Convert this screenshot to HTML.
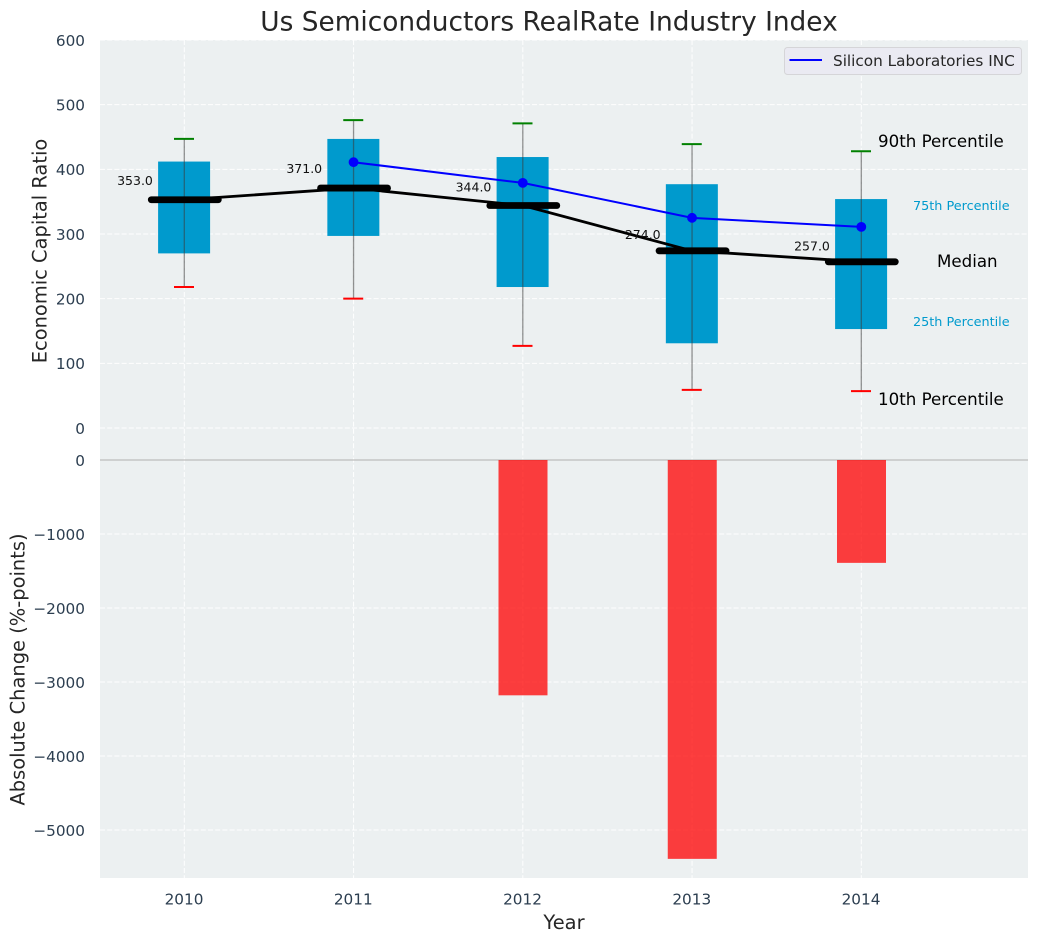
<!DOCTYPE html>
<html>
<head>
<meta charset="utf-8">
<title>Us Semiconductors RealRate Industry Index</title>
<style>
html,body{margin:0;padding:0;background:#fff;width:1039px;height:942px;overflow:hidden}
svg{display:block;font-family:"DejaVu Sans","Liberation Sans",sans-serif}
</style>
</head>
<body>
<svg id="chart" width="1039" height="942" viewBox="0 0 1039 942" xmlns="http://www.w3.org/2000/svg"></svg>
<script>
const years = [2010, 2011, 2012, 2013, 2014];
const p90 = [447, 476, 471, 439, 428];
const p75 = [412, 447, 419, 377, 354];
const median = [353, 371, 344, 274, 257];
const p25 = [270, 297, 218, 131, 153];
const p10 = [218, 200, 127, 59, 57];
const companyYears = [2011, 2012, 2013, 2014];
const companyValues = [411, 379, 325, 311];
const changeYears = [2012, 2013, 2014];
const changeValues = [-3180, -5390, -1390];
const topTicks = [0, 100, 200, 300, 400, 500, 600];
const bottomTicks = [0, -1000, -2000, -3000, -4000, -5000];

const svg = document.getElementById('chart');
const NS = 'http://www.w3.org/2000/svg';
const x = v => 184.3 + (v - 2010) * 169.25;
const yTop = v => 428 - v * 0.6467;
const yBottom = v => 460 - v * 0.074;

function make(tag, attrs, text) {
  const el = document.createElementNS(NS, tag);
  for (const k in attrs) el.setAttribute(k, attrs[k]);
  if (text !== undefined) el.textContent = text;
  svg.appendChild(el);
  return el;
}
function label(txt, px, py, size, fill, anchor) {
  return make('text', {x: px, y: py, 'font-size': size, fill: fill, 'text-anchor': anchor || 'middle', 'dominant-baseline': 'central'}, txt);
}
let el;

el = make('rect', {x: 100, y: 40, width: 928, height: 420, fill: '#ecf0f1'});


el = make('rect', {x: 100, y: 460, width: 928, height: 418, fill: '#ecf0f1'});



const gridStyle = {stroke: '#fff', 'stroke-width': 1, 'stroke-dasharray': '5 2.2', opacity: 0.95};
years.forEach(v => {
  el = make('line', Object.assign({x1: x(v), x2: x(v), y1: 40, y2: 878}, gridStyle));
  
  
  el = label(String(v), x(v) - 0.3, 899.7, 15.28, '#2c3e50');
  
  
});
topTicks.forEach(v => {
  el = make('line', Object.assign({x1: 100, x2: 1028, y1: yTop(v), y2: yTop(v)}, gridStyle));
  
  
  el = label(String(v), 85, yTop(v) + 0.8, 15.28, '#2c3e50', 'end');
  
  
});
bottomTicks.forEach(v => {
  el = make('line', Object.assign({x1: 100, x2: 1028, y1: yBottom(v), y2: yBottom(v)}, gridStyle));
  
  
  el = label(String(v).replace('-', '\u2212'), 85, yBottom(v) + 0.8, 15.28, '#2c3e50', 'end');
  
  
});

el = make('line', {x1: 100, x2: 1028, y1: 460, y2: 460, stroke: '#bdbdbd', 'stroke-width': 1.3});



years.forEach((v, i) => {
  el = make('rect', {x: x(v) - 26.2, y: yTop(p75[i]), width: 52, height: yTop(p25[i]) - yTop(p75[i]), fill: '#009acd'});
  
  
  el = make('line', {x1: x(v), x2: x(v), y1: yTop(p90[i]), y2: yTop(p10[i]), stroke: '#3a3a3a', 'stroke-opacity': 0.55, 'stroke-width': 1.3});
  
  
  el = make('line', {x1: x(v) - 10.3, x2: x(v) + 9.7, y1: yTop(p90[i]), y2: yTop(p90[i]), stroke: '#008000', 'stroke-width': 2});
  
  
  el = make('line', {x1: x(v) - 10.3, x2: x(v) + 9.7, y1: yTop(p10[i]), y2: yTop(p10[i]), stroke: '#ff0000', 'stroke-width': 2});
  
  
});

el = make('polyline', {points: years.map((v, i) => x(v) + ',' + yTop(median[i])).join(' '), fill: 'none', stroke: '#000', 'stroke-width': 2.8});



years.forEach((v, i) => {
  el = make('line', {x1: x(v) - 33, x2: x(v) + 34, y1: yTop(median[i]), y2: yTop(median[i]), stroke: '#000', 'stroke-width': 6.8, 'stroke-linecap': 'round'});
  
  
  el = label(median[i].toFixed(1), x(v) - 49.3, yTop(median[i]) - (7.3 + median[i] * 0.0333), 12.5, '#111');
  
  
});

el = make('polyline', {points: companyYears.map((v, i) => x(v) + ',' + yTop(companyValues[i])).join(' '), fill: 'none', stroke: '#0000ff', 'stroke-width': 2});


companyYears.forEach((v, i) => {
  el = make('circle', {cx: x(v), cy: yTop(companyValues[i]), r: 4.9, fill: '#0000ff'});
  
  
});

changeYears.forEach((v, i) => {
  el = make('rect', {x: x(v) - 24.3, y: yBottom(0), width: 49, height: yBottom(changeValues[i]) - yBottom(0), fill: '#ff0000', 'fill-opacity': 0.75});
  
  
});

el = label('90th Percentile', 878, yTop(p90[4]) - 9.5, 16.67, '#000', 'start');


el = label('75th Percentile', 913, yTop(p75[4]) + 7.5, 12.8, '#009acd', 'start');


el = label('Median', 937, yTop(median[4]) - 0.5, 16.67, '#000', 'start');


el = label('25th Percentile', 913, yTop(p25[4]) - 6.5, 12.8, '#009acd', 'start');


el = label('10th Percentile', 878, yTop(p10[4]) + 8.5, 16.67, '#000', 'start');



el = make('rect', {x: 784.5, y: 47.5, width: 237, height: 27, rx: 3, fill: '#eaeaf2', stroke: '#d5d5d8', 'stroke-width': 1});


el = make('line', {x1: 789.5, x2: 822, y1: 60, y2: 60, stroke: '#0000ff', 'stroke-width': 2});


el = label('Silicon Laboratories INC', 833, 61, 15.28, '#262626', 'start');



el = label('Us Semiconductors RealRate Industry Index', 549, 22.5, 26.39, '#262626');


el = label('Year', 564, 922.5, 19.44, '#262626');


el = label('Economic Capital Ratio', 40, 251, 19.44, '#262626');
el.setAttribute('transform', 'rotate(-90 40 251)');


el = label('Absolute Change (%-points)', 18, 669.5, 19.44, '#262626');
el.setAttribute('transform', 'rotate(-90 18 669.5)');


</script>
</body>
</html>
